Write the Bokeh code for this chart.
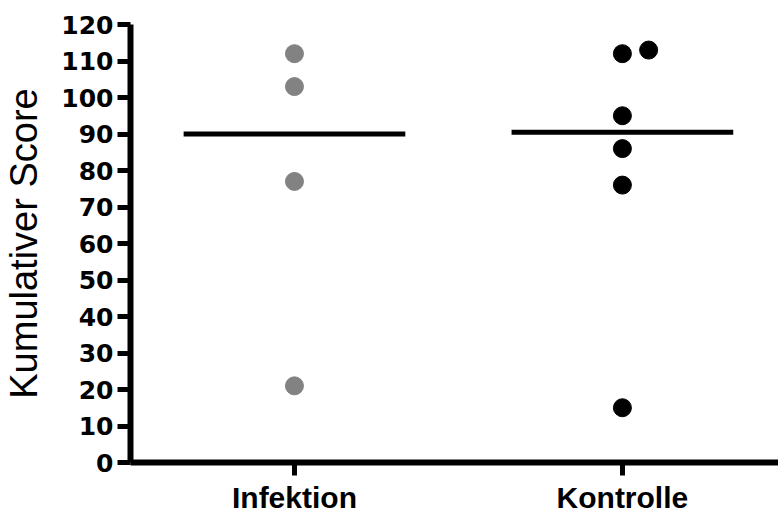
import numpy as np
from bokeh.plotting import figure
from bokeh.models import Range1d, FixedTicker, ColumnDataSource
from bokeh.embed import file_html
from bokeh.resources import INLINE

# ---- data ----
categories = ["Infektion", "Kontrolle"]
infektion_scores = [112, 103, 77, 21]
kontrolle_scores = [112, 113, 95, 86, 76, 15]
y_ticks = [0, 10, 20, 30, 40, 50, 60, 70, 80, 90, 100, 110, 120]
y_label = "Kumulativer Score"

groups = [infektion_scores, kontrolle_scores]
colors = ["#828282", "#000000"]

p = figure(width=778, height=516, output_backend="svg", toolbar_location=None,
           x_range=Range1d(0, 1.976), y_range=Range1d(0, 120),
           min_border_left=130, min_border_right=0, min_border_top=24,
           min_border_bottom=53)
p.outline_line_color = None
p.grid.visible = False
p.background_fill_color = "white"

# dodge overlapping points (scatter-plot style)
def dodge(vals, center, step=0.08, thresh=5):
    xs = []
    placed = []
    for v in vals:
        x = center
        while any(abs(v - pv) < thresh and abs(x - px) < step / 2 for px, pv in placed):
            x += step
        placed.append((x, v))
        xs.append(x)
    return xs

for i, (cat, vals, col) in enumerate(zip(categories, groups, colors)):
    center = i + 0.5
    xs = dodge(vals, center)
    src = ColumnDataSource(dict(x=xs, y=vals))
    p.scatter("x", "y", source=src, size=18, fill_color=col, line_color=col)
    med = float(np.median(vals))
    p.segment(x0=[center - 0.338], x1=[center + 0.338], y0=[med], y1=[med],
              line_color="black", line_width=5)

# x axis
xa = p.xaxis[0]
xa.ticker = FixedTicker(ticks=[i + 0.5 for i in range(len(categories))])
xa.major_label_overrides = {i + 0.5: c for i, c in enumerate(categories)}
xa.minor_tick_line_color = None
xa.major_tick_in = 0
xa.major_tick_out = 13
xa.major_tick_line_width = 5
xa.axis_line_width = 6
xa.major_label_standoff = 5
xa.major_label_text_font = "Liberation Sans"
xa.major_label_text_font_style = "bold"
xa.major_label_text_font_size = "30px"
xa.major_label_text_color = "black"

# y axis
ya = p.yaxis[0]
ya.ticker = FixedTicker(ticks=y_ticks)
ya.minor_tick_line_color = None
ya.major_tick_in = 0
ya.major_tick_out = 13
ya.major_tick_line_width = 5
ya.axis_line_width = 6
ya.major_label_standoff = 4
ya.major_label_text_font = "DejaVu Sans"
ya.major_label_text_font_style = "bold"
ya.major_label_text_font_size = "25px"
ya.major_label_text_color = "black"
ya.axis_label = y_label
ya.axis_label_text_font = "Liberation Sans"
ya.axis_label_text_font_style = "normal"
ya.axis_label_text_font_size = "38px"
ya.axis_label_text_color = "black"
ya.axis_label_standoff = 13

open("out.html", "w").write(file_html(p, INLINE))
